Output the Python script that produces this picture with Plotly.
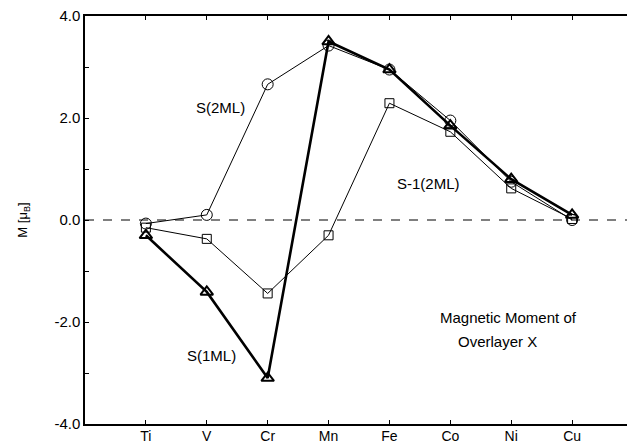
import plotly.graph_objects as go

elements = ["Ti", "V", "Cr", "Mn", "Fe", "Co", "Ni", "Cu"]
s_2ml = [-0.07, 0.1, 2.66, 3.42, 2.95, 1.95, 0.75, 0.0]
s_1ml = [-0.3, -1.41, -3.1, 3.5, 2.95, 1.85, 0.8, 0.1]
s1_2ml = [-0.15, -0.37, -1.44, -0.3, 2.29, 1.73, 0.62, 0.02]
y_ticks = [-4, -2, 0, 2, 4]
y_ticklabels = ["-4.0", "-2.0", "0.0", "2.0", "4.0"]

xs = list(range(len(elements)))
FONT = "Liberation Sans, Arial, sans-serif"

fig = go.Figure()
# zero dashed line
fig.add_trace(go.Scatter(x=[-1, 8], y=[0, 0], mode="lines",
                         line=dict(color="black", width=1.2, dash="dash"),
                         hoverinfo="skip", showlegend=False))
fig.add_trace(go.Scatter(x=xs, y=s1_2ml, mode="lines+markers", name="S-1(2ML)",
                         line=dict(color="black", width=1),
                         marker=dict(symbol="square-open", size=9, color="black",
                                     line=dict(width=1, color="black"))))
fig.add_trace(go.Scatter(x=xs, y=s_2ml, mode="lines+markers", name="S(2ML)",
                         line=dict(color="black", width=1),
                         marker=dict(symbol="circle-open", size=11, color="black",
                                     line=dict(width=1, color="black"))))
fig.add_trace(go.Scatter(x=xs, y=s_1ml, mode="lines+markers", name="S(1ML)",
                         line=dict(color="black", width=2.6),
                         marker=dict(symbol="triangle-up-open", size=11, color="black",
                                     line=dict(width=2, color="black"))))

ann = [
    ("S(2ML)", 1.23, 2.2),
    ("S-1(2ML)", 4.64, 0.71),
    ("S(1ML)", 1.07, -2.65),
    ("Magnetic Moment of", 5.96, -1.92),
    ("Overlayer X", 5.77, -2.39),
]
for t, x, y in ann:
    fig.add_annotation(x=x, y=y, text=t, showarrow=False,
                       font=dict(family=FONT, size=15, color="black"))

fig.update_layout(
    width=627, height=436,
    margin=dict(l=77, r=2, t=8, b=20),
    paper_bgcolor="white", plot_bgcolor="white",
    showlegend=False,
    font=dict(family=FONT, size=14, color="black"),
    xaxis=dict(range=[-1, 8], tickvals=xs, ticktext=elements,
               ticks="inside", ticklen=4, tickwidth=1, tickcolor="black",
               showline=True, linecolor="black", linewidth=1.5, mirror="ticks",
               showgrid=False, zeroline=False, ticklabeloverflow="allow",
               automargin=False, ticklabelstandoff=-2,
               tickfont=dict(family=FONT, size=14, color="black")),
    yaxis=dict(range=[-4, 4], tickvals=y_ticks, ticktext=y_ticklabels,
               ticks="inside", ticklen=4, tickwidth=1, tickcolor="black",
               showline=True, linecolor="black", linewidth=1.5, mirror="ticks",
               showgrid=False, zeroline=False, ticklabeloverflow="allow",
               automargin=False,
               minor=dict(tickvals=[-3, -1, 1, 3], ticks="inside", ticklen=4,
                          tickcolor="black", showgrid=False),
               title=dict(text="M [μ<sub>B</sub>]", standoff=24,
                          font=dict(family=FONT, size=13, color="black")),
               tickfont=dict(family=FONT, size=15, color="black")),
)

fig.write_html("out.html")
